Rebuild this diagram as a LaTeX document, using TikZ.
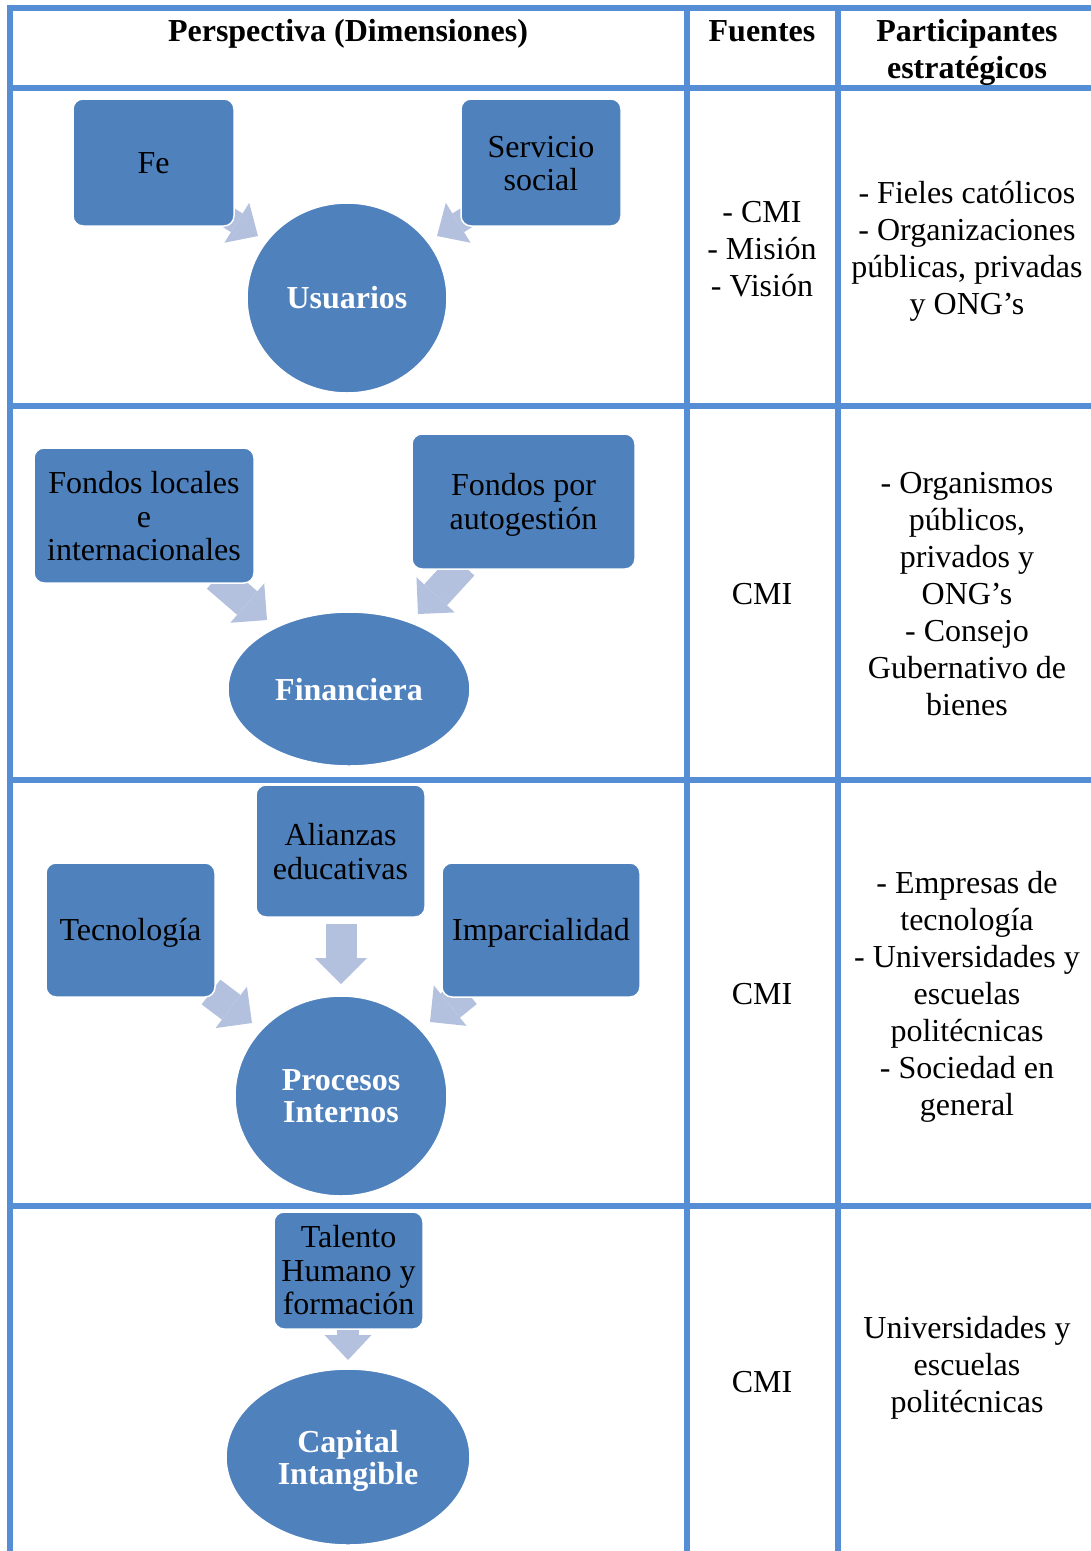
\documentclass[tikz,border=0pt]{standalone}
\usepackage{fontspec}
\setmainfont{Liberation Serif}
\usetikzlibrary{arrows.meta,shapes.geometric}
\definecolor{gridblue}{RGB}{85,142,213}
\definecolor{boxblue}{RGB}{79,129,189}
\definecolor{arrowblue}{RGB}{179,193,222}
% invisible strut that sets the height of a first text line
\newcommand{\tallstrut}[1]{\rule{0pt}{#1}}
\begin{document}
\begin{tikzpicture}[x=1pt,y=-1pt,
  rule/.style={draw=gridblue,line width=6pt},
  dimbox/.style={rectangle,rounded corners=10pt,fill=boxblue,draw=white,line width=1.5pt,
    align=center,inner sep=0pt,font=\fontsize{32}{33.5}\selectfont},
  hub/.style={ellipse,fill=boxblue,draw=white,line width=1.5pt,align=center,inner sep=0pt,
    text=white,font=\bfseries\fontsize{32}{32.5}\selectfont},
  flow/.style={draw=arrowblue,line width=31pt,-{Triangle[length=26pt,width=52pt,line width=0pt]}},
  flowsm/.style={draw=arrowblue,line width=22pt,-{Triangle[length=25pt,width=47pt,line width=0pt]}},
  headtxt/.style={inner sep=0pt,align=center,font=\bfseries\fontsize{32}{37}\selectfont},
  cell/.style={inner sep=0pt,align=center,font=\fontsize{32}{37}\selectfont},
]
\useasboundingbox (0,0) rectangle (1091,1551);

% table grid
\draw[rule] (7,8) -- (1091,8);
\foreach \yy in {88,406,780,1206} \draw[rule] (10,\yy) -- (1091,\yy);
\foreach \xx in {10,687,838} \draw[rule] (\xx,5) -- (\xx,1551);

% header
\node[headtxt,anchor=base] (hpersp) at (348,41) {Perspectiva (Dimensiones)};
\node[headtxt,anchor=base] (hfuen) at (762,41) {Fuentes};
\node[headtxt] (hpart) at (967,52) {Participantes\\estratégicos};

% arrow end points
\coordinate (u1s) at (205,203);  \coordinate (u1e) at (258,236);
\coordinate (u2s) at (490,203);  \coordinate (u2e) at (437,236);
\coordinate (f1s) at (217,577);  \coordinate (f1e) at (267,620);
\coordinate (f2s) at (463,565);  \coordinate (f2e) at (418,614);
\coordinate (p1s) at (211,992);  \coordinate (p1e) at (252,1023);
\coordinate (p2s) at (341,924);  \coordinate (p2e) at (341,984);
\coordinate (p3s) at (467,992);  \coordinate (p3e) at (430,1022);
\coordinate (c1s) at (348,1318); \coordinate (c1e) at (348,1360);

\draw[flowsm] (u1s) -- (u1e);
\draw[flowsm] (u2s) -- (u2e);
\draw[flow] (f1s) -- (f1e);
\draw[flow] (f2s) -- (f2e);
\draw[flow] (p1s) -- (p1e);
\draw[flow] (p2s) -- (p2e);
\draw[flow] (p3s) -- (p3e);
\draw[flowsm] (c1s) -- (c1e);

% Usuarios
\node[dimbox,minimum width=161pt,minimum height=127pt] (fe) at (153.5,162.5) {\tallstrut{23pt}Fe};
\node[dimbox,minimum width=160pt,minimum height=127pt] (serv) at (541,162.5) {\tallstrut{23pt}Servicio\\social};
\node[hub,minimum width=200pt,minimum height=190pt] (usu) at (347,298) {Usuarios};

% Financiera
\node[dimbox,minimum width=220pt,minimum height=135pt] (floc) at (144,515.5) {\tallstrut{24pt}Fondos locales\\e\\internacionales};
\node[dimbox,minimum width=223pt,minimum height=135pt] (fauto) at (523.5,501.5) {\tallstrut{29pt}Fondos por\\autogestión};
\node[hub,minimum width=242pt,minimum height=154pt] (fin) at (349,689) {\tallstrut{23pt}Financiera};

% Procesos internos
\node[dimbox,minimum width=169pt,minimum height=134pt,text height=28pt,text depth=7pt] (tec) at (130.5,930) {Tecnología};
\node[dimbox,minimum width=169pt,minimum height=132pt] (ali) at (340.5,851) {\tallstrut{23pt}Alianzas\\educativas};
\node[dimbox,minimum width=198pt,minimum height=134pt,text height=28pt,text depth=7pt] (imp) at (541,930) {Imparcialidad};
\node[hub,minimum width=212pt,minimum height=200pt] (proc) at (341,1096) {Procesos\\Internos};

% Capital intangible
\node[dimbox,minimum width=149pt,minimum height=117pt] (tal) at (348.5,1270.5) {Talento\\Humano y\\formación};
\node[hub,minimum width=244pt,minimum height=176pt] (cap) at (348,1457) {\tallstrut{30pt}Capital\\Intangible};

% sources
\node[cell] (src1) at (762,249) {- CMI\\- Misión\\- Visión};
\node[cell] (src2) at (762,594) {CMI};
\node[cell] (src3) at (762,994) {CMI};
\node[cell] (src4) at (762,1382) {CMI};

% strategic participants
\node[cell] (par1) at (967,251) {- Fieles católicos\\- Organizaciones\\públicas, privadas\\y ONG’s};
\node[cell] (par2) at (967,594) {- Organismos\\públicos,\\privados y\\ONG’s\\- Consejo\\Gubernativo de\\bienes};
\node[cell] (par3) at (967,997) {- Empresas de\\tecnología\\- Universidades y\\escuelas\\politécnicas\\- Sociedad en\\general};
\node[cell] (par4) at (967,1368) {Universidades y\\escuelas\\politécnicas};
\end{tikzpicture}
\end{document}
